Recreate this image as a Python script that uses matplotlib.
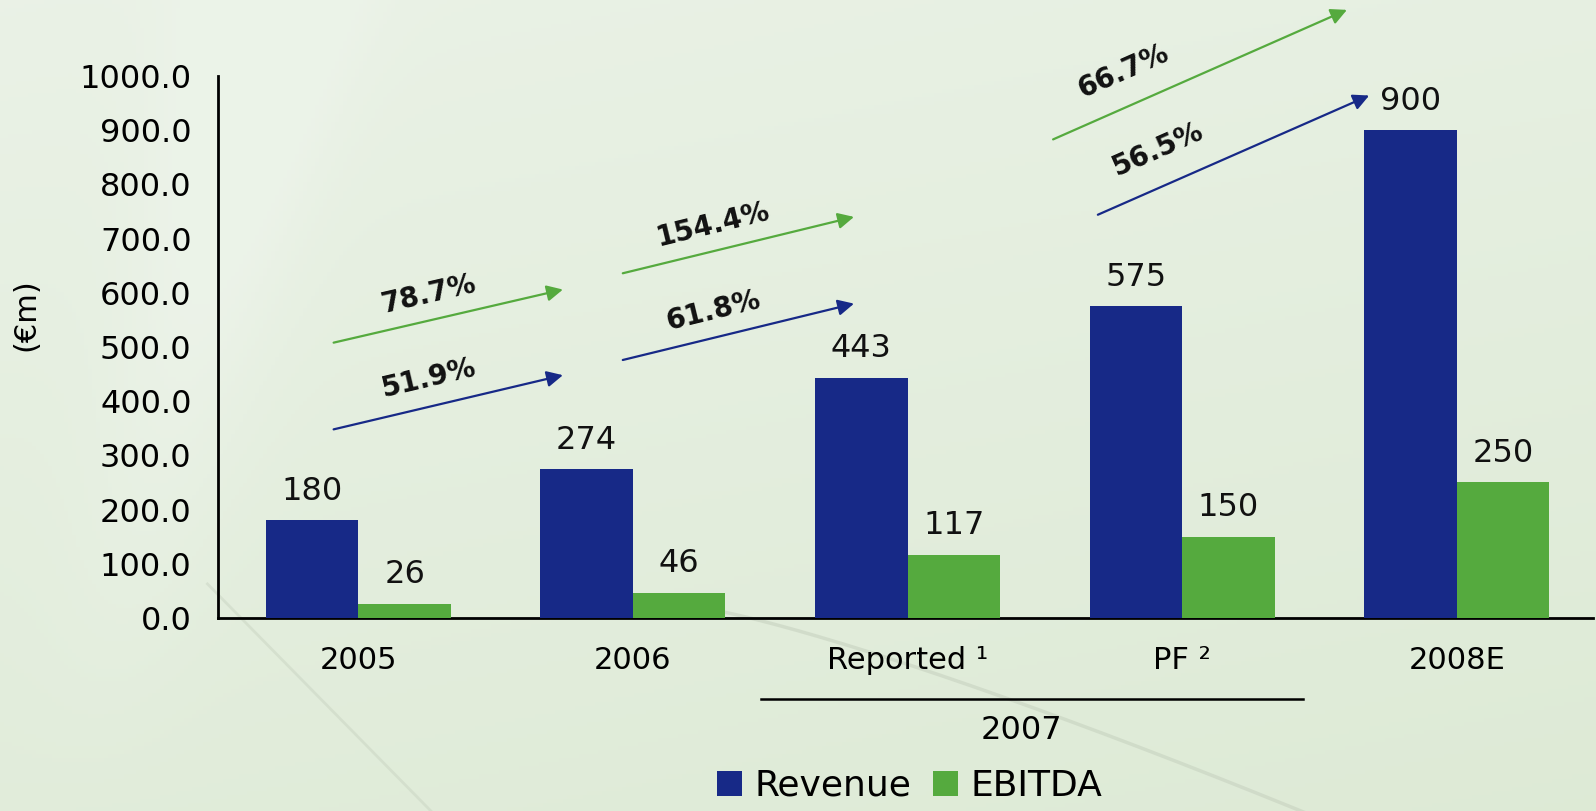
import numpy as np
import matplotlib
matplotlib.use("Agg")
import matplotlib.pyplot as plt
from matplotlib.patches import Patch

# --- data ---
categories = ["2005", "2006", "Reported \u00b9", "PF \u00b2", "2008E"]
revenue = [180, 274, 443, 575, 900]
ebitda = [26, 46, 117, 150, 250]
yticks = [0, 100, 200, 300, 400, 500, 600, 700, 800, 900, 1000]
group_label = "2007"

# growth arrows: (label, colour key, start (x, y), end (x, y), label pos)
growth = [
    ("78.7%", "g", (-0.09, 508), (0.745, 606), (0.256, 598)),
    ("51.9%", "b", (-0.09, 348), (0.745, 448), (0.256, 443)),
    ("154.4%", "g", (0.963, 636), (1.805, 740), (1.293, 726)),
    ("61.8%", "b", (0.963, 476), (1.805, 580), (1.293, 567)),
    ("66.7%", "g", (2.530, 883), (3.600, 1122), (2.785, 1008)),
    ("56.5%", "b", (2.693, 744), (3.681, 964), (2.911, 864)),
]

NAVY = "#172987"
GREEN = "#55aa3e"
cols = {"b": NAVY, "g": GREEN}

plt.rcParams["font.family"] = ["DejaVu Sans"]

fig = plt.figure(figsize=(15.96, 8.11), dpi=100)

# background gradient
bg = fig.add_axes([0, 0, 1, 1], zorder=-10)
yy, xx = np.mgrid[0:1:200j, 0:1:400j]
light = np.array([0.925, 0.953, 0.912])
dark = np.array([0.855, 0.910, 0.820])
t = np.clip(0.5 * yy + 0.2 * xx + 0.1, 0, 1)
# lighter soft band on the left
band = np.exp(-((xx - (0.05 + 0.12 * (1 - yy))) / 0.05) ** 2) * (1 - yy) * 0.5
t = np.clip(t - band, 0, 1)
img = light[None, None, :] * (1 - t[..., None]) + dark[None, None, :] * t[..., None]
bg.imshow(img, extent=[0, 1, 0, 1], aspect="auto", origin="upper")
# faint swooshes
s = np.linspace(0, 1, 200)
bg.plot(0.44 + 0.40 * s, 0.25 - 0.27 * s ** 1.2, color="#bfcab8", lw=2.5, alpha=0.45)
bg.plot(0.13 + 0.15 * s, 0.28 - 0.30 * s, color="#c6d1bf", lw=2, alpha=0.45)
bg.set_xlim(0, 1)
bg.set_ylim(0, 1)
bg.axis("off")

ax = fig.add_axes([0.1366, 0.2380, 0.8615, 0.6683])
ax.set_facecolor("none")

x = np.arange(len(categories))
w = 0.337
b1 = ax.bar(x - w / 2, revenue, w, color=NAVY, label="Revenue", zorder=3)
b2 = ax.bar(x + w / 2, ebitda, w, color=GREEN, label="EBITDA", zorder=3)

for bars, vals in ((b1, revenue), (b2, ebitda)):
    for r, v in zip(bars, vals):
        ax.annotate(f"{v}", (r.get_x() + r.get_width() / 2, v), xytext=(0, 21),
                    textcoords="offset points", ha="center", va="center",
                    fontsize=23, color="#111111")

ax.set_xlim(-0.511, 4.496)
ax.set_ylim(0, 1000)
ax.set_yticks(yticks)
ax.set_yticklabels([f"{v:.1f}" for v in yticks], fontsize=23)
ax.tick_params(axis="y", length=0, pad=19)
ax.set_xticks(x)
ax.set_xticklabels(categories, fontsize=22)
ax.tick_params(axis="x", length=0, pad=20)
for sp in ("top", "right"):
    ax.spines[sp].set_visible(False)
for sp in ("left", "bottom"):
    ax.spines[sp].set_linewidth(2)
ax.set_ylabel("(\u20acm)", fontsize=22)
ax.yaxis.set_label_coords(-0.129, 0.56)

# 2007 grouping line + label
trans = ax.get_xaxis_transform()
ax.plot([1.467, 3.441], [-0.15, -0.15], transform=trans, color="black", lw=1.8, clip_on=False)
ax.text(2.415, -0.207, group_label, transform=trans, ha="center", va="center", fontsize=23)

# growth arrows
fig.canvas.draw()
for lab, c, p0, p1, lp in growth:
    ax.annotate("", xy=p1, xytext=p0, annotation_clip=False,
                arrowprops=dict(arrowstyle="-|>", color=cols[c], lw=1.6, mutation_scale=24,
                                shrinkA=0, shrinkB=0))
    d0 = ax.transData.transform(p0)
    d1 = ax.transData.transform(p1)
    ang = np.degrees(np.arctan2(d1[1] - d0[1], d1[0] - d0[0]))
    ax.text(lp[0], lp[1], lab, rotation=ang, rotation_mode="anchor", ha="center", va="center",
            fontsize=20, fontweight="bold", color="#111111", clip_on=False)

handles = [Patch(facecolor=NAVY, label="Revenue"), Patch(facecolor=GREEN, label="EBITDA")]
fig.legend(handles=handles, loc="center", bbox_to_anchor=(0.570, 0.031), ncol=2, frameon=False,
           fontsize=26, handlelength=0.7, handleheight=0.7, handletextpad=0.35, columnspacing=0.6)

fig.savefig("out.png", dpi=100)
